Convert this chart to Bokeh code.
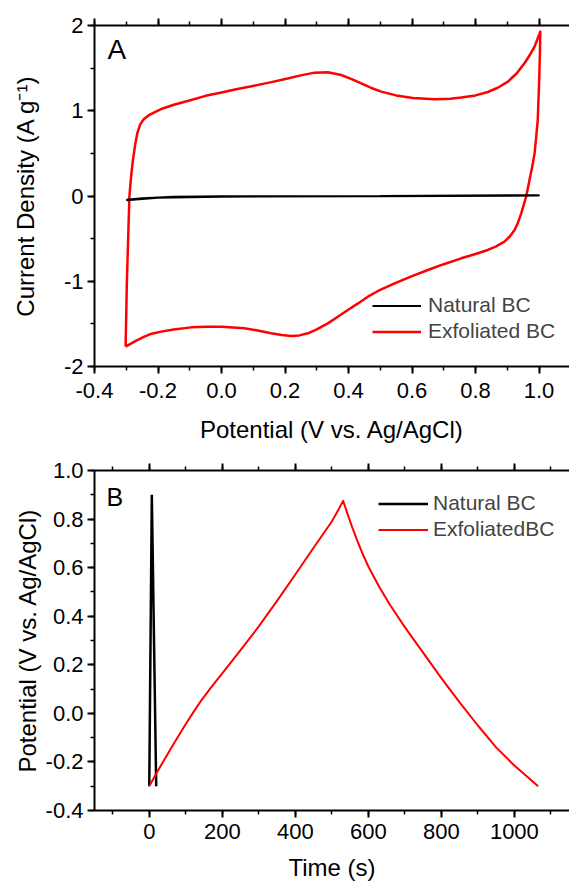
from bokeh.plotting import figure
from bokeh.models import (Range1d, LinearAxis, SingleIntervalTicker, Legend,
                          LegendItem, Label, NumeralTickFormatter)
from bokeh.layouts import column
from bokeh.embed import file_html
from bokeh.resources import INLINE

FONT = "Liberation Sans"

# ---------------- Panel A: cyclic voltammetry ----------------
cv_exf_potential = [-0.302, -0.298, -0.294, -0.29, -0.285, -0.279, -0.272, -0.265, -0.256, -0.245,
                    -0.23, -0.21, -0.19, -0.15, -0.101, -0.05, 0.0, 0.05, 0.099, 0.15,
                    0.198, 0.25, 0.293, 0.335, 0.377, 0.41, 0.44, 0.47, 0.503, 0.55,
                    0.603, 0.671, 0.72, 0.755, 0.8, 0.839, 0.87, 0.902, 0.93, 0.954,
                    0.972, 0.986, 1.004,
                    1.003, 1.0, 0.996, 0.99, 0.986, 0.978, 0.97, 0.96, 0.952, 0.944,
                    0.934, 0.923, 0.908, 0.891, 0.865, 0.839, 0.8, 0.755, 0.7, 0.65,
                    0.6, 0.545, 0.5, 0.461, 0.43, 0.398, 0.365, 0.335, 0.3, 0.272,
                    0.245, 0.219, 0.19, 0.156, 0.11, 0.072, 0.0, -0.05, -0.096, -0.15,
                    -0.19, -0.22, -0.243, -0.27, -0.302]
cv_exf_current = [-1.767, -1.0, -0.5, 0.0, 0.22, 0.42, 0.6, 0.74, 0.84, 0.9,
                  0.945, 0.985, 1.02, 1.07, 1.12, 1.175, 1.215, 1.255, 1.29, 1.33,
                  1.37, 1.415, 1.447, 1.451, 1.419, 1.37, 1.32, 1.27, 1.224, 1.18,
                  1.15, 1.134, 1.14, 1.155, 1.18, 1.22, 1.27, 1.341, 1.44, 1.556,
                  1.66, 1.752, 1.928,
                  1.7, 1.3, 0.891, 0.65, 0.5, 0.33, 0.188, 0.0, -0.1, -0.203,
                  -0.31, -0.399, -0.475, -0.536, -0.59, -0.633, -0.68, -0.731, -0.8, -0.868,
                  -0.94, -1.024, -1.1, -1.181, -1.26, -1.337, -1.42, -1.494, -1.565, -1.611,
                  -1.635, -1.642, -1.63, -1.611, -1.575, -1.552, -1.533, -1.535, -1.541, -1.565,
                  -1.591, -1.615, -1.65, -1.7, -1.767]

cv_nat_potential = [-0.3, -0.25, -0.15, 0.0, 0.5, 1.0, 1.0, 0.5, 0.0, -0.2, -0.3]
cv_nat_current = [-0.045, -0.025, -0.01, -0.003, 0.0, 0.01, 0.005, -0.003, -0.008, -0.02, -0.05]

# ---------------- Panel B: galvanostatic charge/discharge ----------------
gcd_nat_time = [0, 7, 19]
gcd_nat_potential = [-0.3, 0.9, -0.3]

gcd_exf_time = [0, 20, 40, 60, 80, 100, 120, 140, 170, 200, 250, 300, 350, 400, 450, 500, 515, 531,
                540, 555, 570, 585, 600, 630, 660, 700, 750, 800, 850, 900, 950, 1000, 1040, 1065]
gcd_exf_potential = [-0.3, -0.246, -0.194, -0.143, -0.093, -0.044, 0.003, 0.048, 0.108, 0.165, 0.26,
                     0.358, 0.463, 0.572, 0.682, 0.79, 0.83, 0.875,
                     0.835, 0.77, 0.71, 0.655, 0.605, 0.52, 0.445, 0.355, 0.25, 0.145, 0.045,
                     -0.05, -0.14, -0.215, -0.267, -0.30]


def style_axis(ax, interval, minor, fmt, label_size="22px"):
    ax.ticker = SingleIntervalTicker(interval=interval, num_minor_ticks=minor)
    ax.formatter = NumeralTickFormatter(format=fmt)
    ax.axis_line_width = 2
    ax.axis_line_color = "black"
    ax.major_tick_line_width = 2
    ax.minor_tick_line_width = 1.5
    ax.major_tick_line_color = "black"
    ax.minor_tick_line_color = "black"
    ax.major_tick_in = 0
    ax.major_tick_out = 7
    ax.minor_tick_in = 0
    ax.minor_tick_out = 4
    ax.major_label_text_font = FONT
    ax.major_label_text_font_size = label_size
    ax.major_label_text_color = "black"
    ax.axis_label_text_font = FONT
    ax.axis_label_text_font_size = "24px"
    ax.axis_label_text_font_style = "normal"
    ax.axis_label_text_color = "black"


def make_top(p, interval, minor):
    top = LinearAxis()
    style_axis(top, interval, minor, "0")
    top.major_label_text_font_size = "0px"
    top.major_label_text_color = None
    top.major_label_standoff = 0
    p.add_layout(top, "above")


# ---------- Figure A ----------
p1 = figure(frame_width=475, frame_height=341,
            x_range=Range1d(-0.4, 1.096), y_range=Range1d(-2, 2),
            output_backend="svg", toolbar_location=None,
            min_border_left=94, min_border_right=0, min_border_top=25, min_border_bottom=92)
p1.outline_line_color = None
p1.xgrid.visible = False
p1.ygrid.visible = False
style_axis(p1.xaxis[0], 0.2, 2, "0.0")
style_axis(p1.yaxis[0], 1, 2, "0")
p1.xaxis[0].axis_label = "Potential (V vs. Ag/AgCl)"
p1.yaxis[0].axis_label = "Current Density (A g\u207B\u00B9)"
p1.xaxis[0].major_label_standoff = 9
p1.xaxis[0].axis_label_standoff = 15
p1.yaxis[0].major_label_standoff = 4
p1.yaxis[0].axis_label_standoff = 22
make_top(p1, 0.2, 2)

rA_red = p1.line(cv_exf_potential, cv_exf_current, line_color="#FF0000", line_width=2.5,
                 line_join="round")
rA_blk = p1.line(cv_nat_potential, cv_nat_current, line_color="black", line_width=2)

legA = Legend(items=[LegendItem(label="Natural BC", renderers=[rA_blk]),
                     LegendItem(label="Exfoliated BC", renderers=[rA_red])],
              location=(278, 23), border_line_color=None, background_fill_alpha=0,
              padding=0, margin=0, spacing=2, glyph_width=49, glyph_height=21,
              label_standoff=7, label_text_font=FONT, label_text_font_size="21px",
              label_height=21)
p1.add_layout(legA)
p1.add_layout(Label(x=13, y=333, x_units="screen", y_units="screen", text="A",
                    text_font=FONT, text_font_size="28px", text_baseline="top",
                    text_color="black"))

# ---------- Figure B ----------
p2 = figure(frame_width=475, frame_height=340,
            x_range=Range1d(-150, 1151), y_range=Range1d(-0.4, 1.0),
            output_backend="svg", toolbar_location=None,
            min_border_left=94, min_border_right=0, min_border_top=12, min_border_bottom=72)
p2.outline_line_color = None
p2.xgrid.visible = False
p2.ygrid.visible = False
style_axis(p2.xaxis[0], 200, 2, "0")
style_axis(p2.yaxis[0], 0.2, 2, "0.0")
p2.xaxis[0].axis_label = "Time (s)"
p2.yaxis[0].axis_label = "Potential (V vs. Ag/AgCl)"
p2.xaxis[0].major_label_standoff = 6
p2.xaxis[0].axis_label_standoff = 12
p2.yaxis[0].major_label_standoff = 4
p2.yaxis[0].axis_label_standoff = 2
make_top(p2, 200, 2)

rB_blk = p2.line(gcd_nat_time, gcd_nat_potential, line_color="black", line_width=2.5)
rB_red = p2.line(gcd_exf_time, gcd_exf_potential, line_color="#FF0000", line_width=2,
                 line_join="round")

legB = Legend(items=[LegendItem(label="Natural BC", renderers=[rB_blk]),
                     LegendItem(label="ExfoliatedBC", renderers=[rB_red])],
              location=(284, 269), border_line_color=None, background_fill_alpha=0,
              padding=0, margin=0, spacing=2, glyph_width=50, glyph_height=21,
              label_standoff=5, label_text_font=FONT, label_text_font_size="21px",
              label_height=21)
p2.add_layout(legB)
p2.add_layout(Label(x=12, y=328, x_units="screen", y_units="screen", text="B",
                    text_font=FONT, text_font_size="25px", text_baseline="top",
                    text_color="black"))

layout = column(p1, p2, spacing=0)
open("out.html", "w").write(file_html(layout, INLINE))
